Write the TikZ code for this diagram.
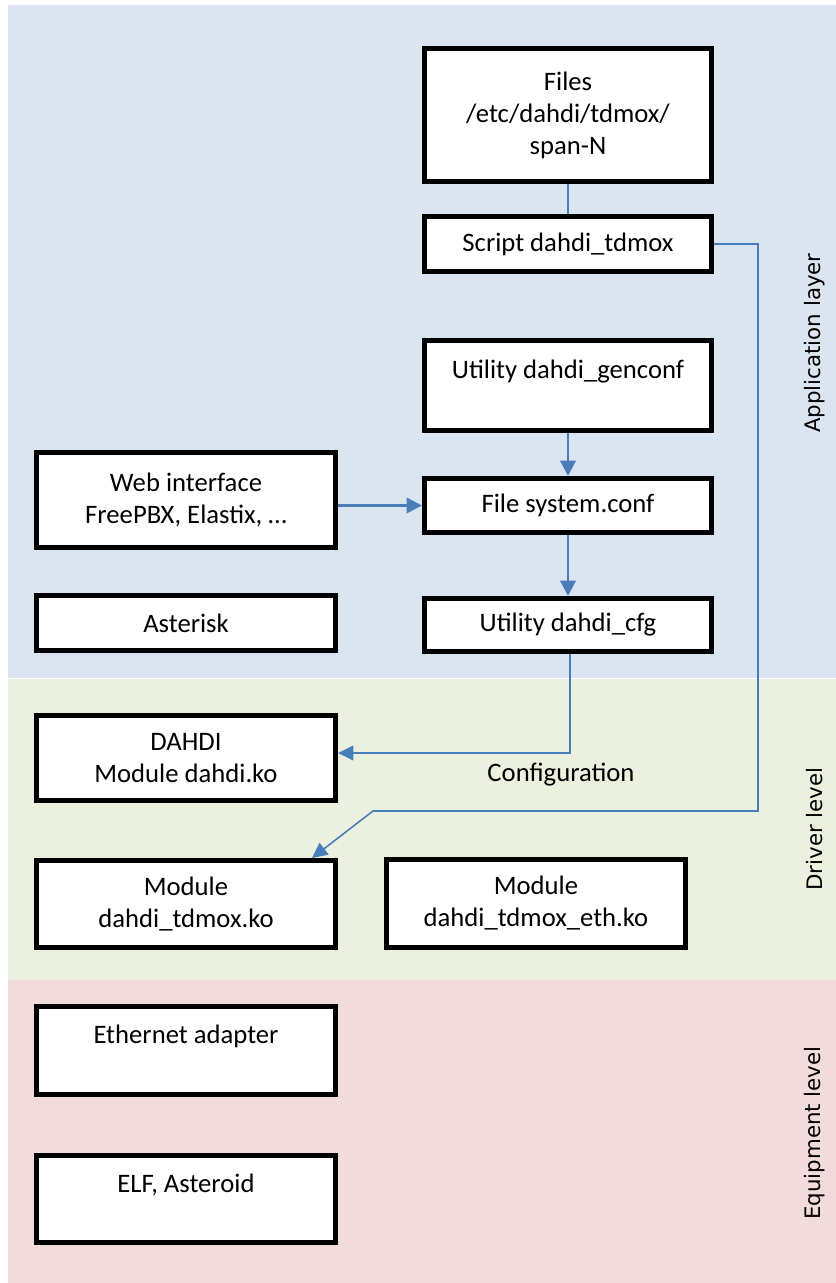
\documentclass[tikz,border=0pt]{standalone}
\usepackage{fontspec}
\setmainfont{Carlito}
\newfontfamily\lblfont{DejaVu Sans}
\usetikzlibrary{arrows.meta,calc}
\definecolor{bandblue}{HTML}{DBE5F1}
\definecolor{bandgreen}{HTML}{EBF1DE}
\definecolor{bandpink}{HTML}{F2DCDB}
\definecolor{conn}{HTML}{4A7EBB}
\tikzset{
  stepbox/.style={draw=black, line width=3.75pt, fill=white, inner sep=0pt,
    align=center, font=\fontsize{20}{24}\selectfont},
  thinconn/.style={draw=conn, line width=1.2pt},
  arrconn/.style={draw=conn, line width=1.9pt, -{Triangle[length=11.5pt,width=11.5pt]}},
  arrthin/.style={draw=conn, line width=1.2pt, -{Triangle[length=11.5pt,width=11pt]}},
  layerlbl/.style={font=\lblfont\fontsize{16}{20}\selectfont, rotate=90, inner sep=0pt},
}
\begin{document}
\begin{tikzpicture}[x=0.75pt,y=-0.75pt]
\useasboundingbox (0,0) rectangle (836,1283);
\fill[white] (0,0) rectangle (836,1283);
\fill[bandblue] (8,5) rectangle (836,677.5);
\fill[bandgreen] (8,678.5) rectangle (836,980);
\fill[bandpink] (8,980) rectangle (836,1283);

% boxes (size = outer size minus line width)
\node[stepbox, minimum width=215.25pt, minimum height=99.75pt] (files) at (568,115) {Files\\/etc/dahdi/tdmox/\\span-N};
\node[stepbox, minimum width=215.25pt, minimum height=41.25pt] (script) at (568,244) {Script dahdi\_tdmox};
\node[stepbox, minimum width=215.25pt, minimum height=67.5pt] (gen) at (568,385.5) {Utility dahdi\_genconf\\\mbox{}};
\node[stepbox, minimum width=224.25pt, minimum height=71.25pt] (web) at (186,500) {Web interface\\FreePBX, Elastix, …};
\node[stepbox, minimum width=215.25pt, minimum height=40.5pt] (sys) at (568,505.5) {File system.conf};
\node[stepbox, minimum width=224.25pt, minimum height=41.25pt] (ast) at (186,623) {Asterisk};
\node[stepbox, minimum width=215.25pt, minimum height=39.75pt] (cfg) at (568,625) {Utility dahdi\_cfg};
\node[stepbox, minimum width=224.25pt, minimum height=63.75pt] (dahdi) at (186,758) {DAHDI\\Module dahdi.ko};
\node[stepbox, minimum width=224.25pt, minimum height=65.25pt] (tdmox) at (186,904) {Module\\dahdi\_tdmox.ko};
\node[stepbox, minimum width=224.25pt, minimum height=66pt] (eth) at (536,903.5) {Module\\dahdi\_tdmox\_eth.ko};
\node[stepbox, minimum width=224.25pt, minimum height=66pt] (ethad) at (186,1050.5) {Ethernet adapter\\\mbox{}};
\node[stepbox, minimum width=224.25pt, minimum height=65.25pt] (elf) at (186,1199) {ELF, Asteroid\\\mbox{}};

% labels
\node[font=\fontsize{20}{24}\selectfont, inner sep=0pt] (confl) at (561,775) {Configuration};
\node[layerlbl] (lapp) at (815,343) {Application layer};
\node[layerlbl] (ldrv) at (815,829) {Driver level};
\node[layerlbl] (lequ) at (815,1133) {Equipment level};

% connectors
\draw[thinconn] (files.south) -- (script.north);
\coordinate (c1) at (758,811);
\coordinate (c2) at (373,811);
\draw[arrthin] (script.east) -| (c1) -- (c2) -- ([xshift=94.5pt]tdmox.north);
\draw[arrconn] (gen.south) -- (sys.north);
\draw[arrconn] (sys.south) -- (cfg.south |- cfg.north);
\draw[arrconn] (sys.west -| web.east) -- (sys.west);
\draw[arrthin] ([xshift=1.5pt]cfg.south) |- ([yshift=3.75pt]dahdi.east);
\end{tikzpicture}
\end{document}
